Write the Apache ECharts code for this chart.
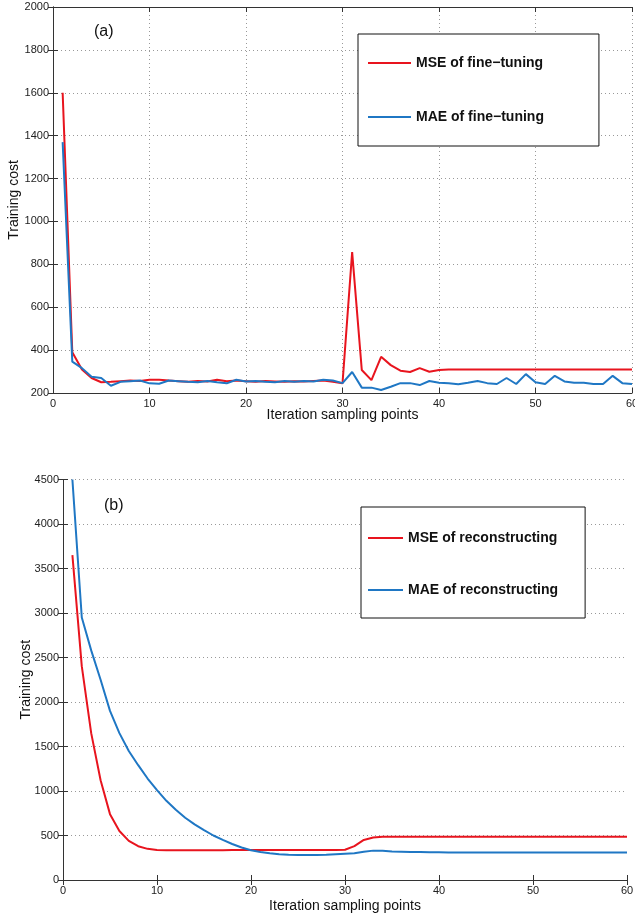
<!DOCTYPE html>
<html>
<head>
<meta charset="utf-8">
<script src="https://cdn.jsdelivr.net/npm/echarts@6/dist/echarts.min.js"></script>
<style>
  html, body { margin: 0; padding: 0; background: #fff; }
  #chart { width: 635px; height: 913px; }
</style>
</head>
<body>
<div id="chart"></div>
<script>
// (a) fine-tuning, iteration sampling points 1..60
const mseFineTuning = [
  1600, 390, 310, 270, 250, 252, 255, 258, 256, 262,
  262, 258, 255, 252, 256, 254, 262, 255, 258, 255,
  252, 256, 254, 252, 255, 254, 256, 258, 252, 245,
  857, 307, 260, 369, 330, 304, 298, 316, 299, 307,
  310, 310, 310, 310, 310, 310, 310, 310, 310, 310,
  310, 310, 310, 310, 310, 310, 310, 310, 310, 310
];
const maeFineTuning = [
  1370, 346, 316, 276, 270, 234, 252, 255, 258, 245,
  243, 258, 255, 252, 250, 256, 250, 245, 262, 254,
  256, 252, 250, 256, 252, 256, 254, 262, 258, 246,
  298, 225, 225, 214, 229, 246, 246, 237, 256, 248,
  246, 241, 248, 256, 246, 242, 270, 242, 288, 250,
  242, 280, 254, 248, 248, 242, 242, 280, 246, 242
];

// (b) reconstructing
const mseReconstructing = [
  3650, 2400, 1650, 1120, 740, 550, 440, 380, 350, 338,
  335, 335, 335, 335, 335, 335, 335, 336, 336, 336,
  336, 336, 336, 336, 336, 336, 336, 336, 337, 340,
  380, 450, 478, 485, 485, 485, 485, 485, 485, 485,
  485, 485, 485, 485, 485, 485, 485, 485, 485, 485,
  485, 485, 485, 485, 485, 485, 485, 485, 485, 485
];
const maeReconstructing = [
  4500, 2950, 2580, 2250, 1900, 1650, 1450, 1290, 1140, 1010,
  890, 790, 700, 625, 560, 500, 450, 405, 365, 335,
  315, 300, 290, 283, 280, 280, 282, 285, 290, 295,
  300, 318, 330, 328, 320, 318, 316, 315, 313, 312,
  310, 310, 310, 310, 310, 310, 310, 310, 310, 310,
  310, 310, 310, 310, 310, 310, 310, 310, 310, 310
];

const RED = '#e8141e';
const BLUE = '#1f77c4';
const FONT = '"Liberation Sans", Arial, sans-serif';

// attach iteration index (1-based) to each value
function pts(arr) {
  return arr.map((v, i) => [i + 1, v]);
}
const plain = v => String(v);

function xAxisMain(gridIndex, gap, showGrid) {
  return {
    type: 'value', gridIndex: gridIndex, min: 0, max: 60, interval: 10,
    name: 'Iteration sampling points', nameLocation: 'middle', nameGap: gap,
    nameMoveOverlap: false,
    nameTextStyle: { fontFamily: FONT, fontSize: 14, color: '#111' },
    axisLine: { lineStyle: { color: '#333', width: 1 } },
    axisTick: { inside: true, length: 5, lineStyle: { color: '#333' } },
    axisLabel: { fontFamily: FONT, fontSize: 11, color: '#222', margin: 5, formatter: plain },
    splitLine: { show: showGrid, lineStyle: { type: [1, 3], color: '#999' } }
  };
}
function xAxisTop(gridIndex) {
  return {
    type: 'value', gridIndex: gridIndex, position: 'top', min: 0, max: 60, interval: 10,
    axisLine: { show: true, lineStyle: { color: '#333', width: 1 } },
    axisTick: { show: true, inside: true, length: 5, lineStyle: { color: '#333' } },
    axisLabel: { show: false }, splitLine: { show: false }
  };
}
function yAxisMain(gridIndex, min, max, interval, gap) {
  return {
    type: 'value', gridIndex: gridIndex, min: min, max: max, interval: interval,
    name: 'Training cost', nameLocation: 'middle', nameGap: gap,
    nameMoveOverlap: false,
    nameTextStyle: { fontFamily: FONT, fontSize: 14, color: '#111' },
    axisLine: { show: true, lineStyle: { color: '#333', width: 1 } },
    axisTick: { show: true, inside: true, length: 5, lineStyle: { color: '#333' } },
    axisLabel: { fontFamily: FONT, fontSize: 11, color: '#222', margin: 4, formatter: plain },
    splitLine: { show: true, lineStyle: { type: [1, 3], color: '#999' } }
  };
}
function yAxisRight(gridIndex, min, max, interval) {
  return {
    type: 'value', gridIndex: gridIndex, position: 'right', min: min, max: max, interval: interval,
    axisLine: { show: true, lineStyle: { color: '#333', width: 1 } },
    axisTick: { show: true, inside: true, length: 5, lineStyle: { color: '#333' } },
    axisLabel: { show: false }, splitLine: { show: false }
  };
}
function lineSeries(name, data, color, xi, yi) {
  return {
    name: name, type: 'line', xAxisIndex: xi, yAxisIndex: yi,
    data: pts(data), symbol: 'none', smooth: false,
    lineStyle: { color: color, width: 2 }, itemStyle: { color: color },
    animation: false
  };
}

const chart = echarts.init(document.getElementById('chart'), null, { renderer: 'canvas' });

const legendText = { fontFamily: FONT, fontSize: 14, fontWeight: 'bold', color: '#111' };

const option = {
  backgroundColor: '#fff',
  animation: false,
  title: [
    { text: '(a)', left: 89, top: 19, textStyle: { fontFamily: FONT, fontSize: 16, fontWeight: 'normal', color: '#111' } },
    { text: '(b)', left: 99, top: 493, textStyle: { fontFamily: FONT, fontSize: 16, fontWeight: 'normal', color: '#111' } }
  ],
  grid: [
    { left: 53, top: 7, width: 579, height: 386, outerBoundsMode: 'none', containLabel: false },
    { left: 63, top: 479.5, width: 564, height: 400.5, outerBoundsMode: 'none', containLabel: false }
  ],
  legend: [
    {
      data: ['MSE of fine−tuning', 'MAE of fine−tuning'],
      orient: 'vertical', left: 358, top: 34,
      padding: [22, 55, 22, 9], itemGap: 40,
      itemWidth: 43, itemHeight: 14,
      itemStyle: { opacity: 0 },
      borderColor: '#111', borderWidth: 1, backgroundColor: '#fff',
      textStyle: legendText
    },
    {
      data: ['MSE of reconstructing', 'MAE of reconstructing'],
      orient: 'vertical', left: 361, top: 507,
      padding: [24, 27, 21, 6], itemGap: 38,
      itemWidth: 35, itemHeight: 14,
      itemStyle: { opacity: 0 },
      borderColor: '#111', borderWidth: 1, backgroundColor: '#fff',
      textStyle: legendText
    }
  ],
  xAxis: [xAxisMain(0, 15, true), xAxisTop(0), xAxisMain(1, 19, false), xAxisTop(1)],
  yAxis: [
    yAxisMain(0, 200, 2000, 200, 32), yAxisRight(0, 200, 2000, 200),
    yAxisMain(1, 0, 4500, 500, 30), yAxisRight(1, 0, 4500, 500)
  ],
  series: [
    lineSeries('MSE of fine−tuning', mseFineTuning, RED, 0, 0),
    lineSeries('MAE of fine−tuning', maeFineTuning, BLUE, 0, 0),
    lineSeries('MSE of reconstructing', mseReconstructing, RED, 2, 2),
    lineSeries('MAE of reconstructing', maeReconstructing, BLUE, 2, 2)
  ]
};

chart.setOption(option);
</script>
</body>
</html>
